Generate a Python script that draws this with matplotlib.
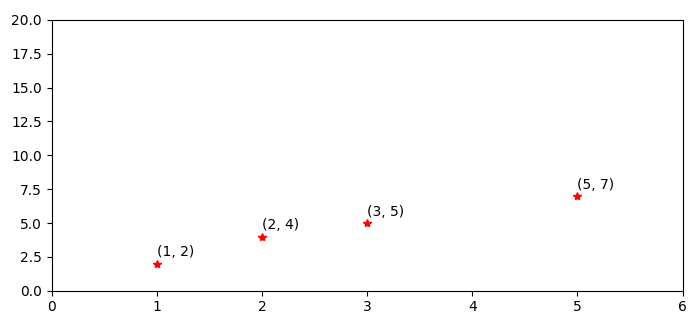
import matplotlib
matplotlib.use("Agg")
import matplotlib.pyplot as plt

# data points
xs = [1, 2, 3, 5]
ys = [2, 4, 5, 7]

fig, ax = plt.subplots(figsize=(7.0, 3.27), dpi=100)
fig.subplots_adjust(left=0.074, right=0.975, top=0.939, bottom=0.111)

ax.plot(xs, ys, 'r*', linestyle='none')
for x, y in zip(xs, ys):
    ax.annotate(f"({x}, {y})", xy=(x, y), xytext=(0, 3),
                textcoords='offset points', va='bottom')

ax.set_xlim(0, 6)
ax.set_ylim(0, 20)

fig.savefig("out.png", dpi=100)
